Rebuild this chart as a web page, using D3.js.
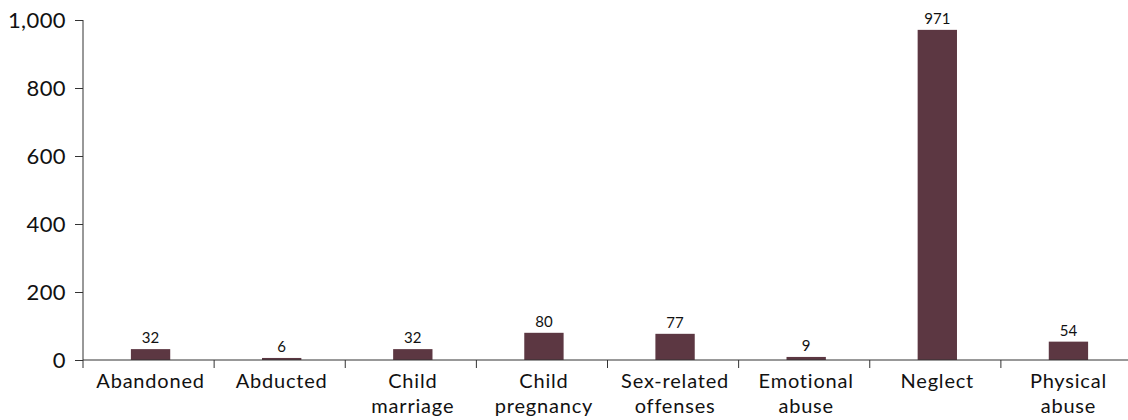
<!DOCTYPE html>
<html>
<head>
<meta charset="utf-8">
<script src="https://cdn.jsdelivr.net/npm/d3@7"></script>
<style>
  html, body { margin: 0; padding: 0; background: #fff; }
  svg { display: block; font-family: Lato, "Open Sans", sans-serif; }
</style>
</head>
<body>
<svg id="chart" width="1128" height="420"></svg>
<script>
// Reported cases by type
const categories = [
  ["Abandoned"],
  ["Abducted"],
  ["Child", "marriage"],
  ["Child", "pregnancy"],
  ["Sex-related", "offenses"],
  ["Emotional", "abuse"],
  ["Neglect"],
  ["Physical", "abuse"]
];
const values = [32, 6, 32, 80, 77, 9, 971, 54];
const yTicks = [0, 200, 400, 600, 800, 1000];

const barColor = "#5c3742";
const axisColor = "#333";

const svg = d3.select("#chart");
const x0 = 83, x1 = 1132;
const yZero = 360, yTop = 20;
const barShift = 2;

const keys = categories.map(c => c.join(" "));
const x = d3.scaleBand().domain(keys).range([x0, x1]).paddingInner(0.7).paddingOuter(0.35);
const y = d3.scaleLinear().domain([0, 1000]).range([yZero, yTop]);
const cx = i => x(keys[i]) + x.bandwidth() / 2 + barShift;

// Y axis
const yAxis = svg.append("g")
  .attr("transform", `translate(${x0},0)`)
  .call(d3.axisLeft(y).tickValues(yTicks).tickSize(8).tickPadding(9).tickFormat(d3.format(",")));
yAxis.select(".domain").attr("stroke", axisColor).attr("d", `M0,${yTop}V${yZero}`);
yAxis.selectAll(".tick line").attr("stroke", axisColor);
yAxis.selectAll(".tick text").attr("font-size", 22).attr("fill", "#111")
  .attr("font-family", "Lato, sans-serif").attr("letter-spacing", 0.4);

// Bars
svg.append("g").selectAll("rect")
  .data(values)
  .join("rect")
  .attr("x", (d, i) => x(keys[i]) + barShift)
  .attr("width", x.bandwidth())
  .attr("y", d => y(d))
  .attr("height", d => yZero - y(d))
  .attr("fill", barColor);

// Value labels
svg.append("g").selectAll("text")
  .data(values)
  .join("text")
  .attr("x", (d, i) => cx(i))
  .attr("y", d => y(d) - 6)
  .attr("text-anchor", "middle")
  .attr("font-size", 15)
  .attr("fill", "#111")
  .text(d => d3.format(",")(d));

// X axis baseline and category separators
const xg = svg.append("g");
xg.append("line")
  .attr("x1", x0).attr("x2", x1)
  .attr("y1", yZero).attr("y2", yZero)
  .attr("stroke", axisColor);
const step = x.step();
const seps = d3.range(keys.length).map(i => x(keys[i]) - x.paddingOuter() * step);
xg.selectAll("line.sep")
  .data(seps)
  .join("line")
  .attr("class", "sep")
  .attr("x1", d => d).attr("x2", d => d)
  .attr("y1", yZero).attr("y2", yZero + 8)
  .attr("stroke", axisColor);

// Category labels
const lab = xg.selectAll("text.cat")
  .data(categories)
  .join("text")
  .attr("class", "cat")
  .attr("x", (d, i) => cx(i))
  .attr("y", 388)
  .attr("text-anchor", "middle")
  .attr("font-size", 20)
  .attr("letter-spacing", 0.8)
  .attr("fill", "#111");
lab.selectAll("tspan")
  .data(d => d)
  .join("tspan")
  .attr("x", function () { return this.parentNode.getAttribute("x"); })
  .attr("dy", (d, i) => i === 0 ? 0 : 25)
  .text(d => d);
</script>
</body>
</html>
